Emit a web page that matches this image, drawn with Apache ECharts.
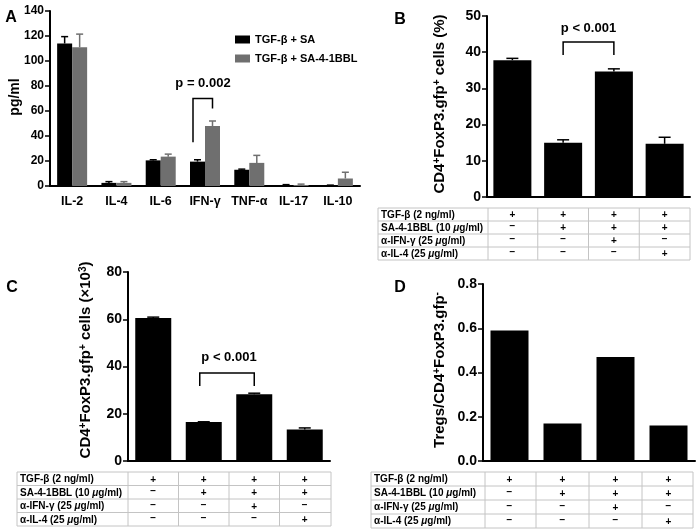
<!DOCTYPE html>
<html><head><meta charset="utf-8">
<script src="https://cdn.jsdelivr.net/npm/echarts@6/dist/echarts.min.js"></script>
<style>html,body{margin:0;padding:0;background:#fff}#c{width:699px;height:532px}</style>
</head><body><div id="c"></div>
<script>
// ---------- data ----------
const cytokines = ['IL-2','IL-4','IL-6','IFN-γ','TNF-α','IL-17','IL-10'];
const seriesNamesA = ['TGF-β + SA','TGF-β + SA-4-1BBL'];
const aSA      = [114, 2.5, 20.5, 19.5, 13, 0.8, 0.5];
const aSAtop   = [119.5, 3.5, 21, 21, 13.5, 1.1, 0.7];
const aBBL     = [111, 2.5, 23.5, 48, 18.5, 0.8, 6];
const aBBLtop  = [121.5, 3.5, 25.5, 52, 24.5, 1.5, 11];
const conditions = ['c1','c2','c3','c4'];
const bVals = [37.8, 15, 34.7, 14.7];
const bTop  = [38.3, 15.8, 35.4, 16.5];
const cVals = [60.5, 16.5, 28.3, 13.3];
const cTop  = [60.9, 16.6, 28.7, 14.0];
const dVals = [0.59, 0.17, 0.47, 0.16];
const tableRows = ['TGF-β (2 ng/ml)', 'SA-4-1BBL (10 {i|μ}g/ml)', 'α-IFN-γ (25 {i|μ}g/ml)', 'α-IL-4 (25 {i|μ}g/ml)'];
const tableSigns = [['+','+','+','+'],['−','+','+','+'],['−','−','+','−'],['−','−','−','+']];
const pTextA = 'p = 0.002';
const pTextBC = 'p < 0.001';

// ---------- style ----------
const FF = "'Liberation Sans', Arial, Helvetica, sans-serif";
const BLACK = '#000';
const GRAY = '#6f6f6f';
const chart = echarts.init(document.getElementById('c'), null, {renderer:'canvas'});

function yAxisCfg(grid, max, interval, size, fmt){
  return {type:'value', gridIndex:grid, min:0, max:max, interval:interval,
    axisLine:{show:true, lineStyle:{color:'#000', width:2}},
    axisTick:{show:true, length:5, lineStyle:{color:'#000', width:1.5}},
    splitLine:{show:false},
    axisLabel:{color:'#000', fontFamily:FF, fontWeight:'bold', fontSize:size, margin:6, formatter:fmt}};
}
function xAxisCfg(grid, data, showLabel){
  return {type:'category', gridIndex:grid, data:data,
    axisLine:{show:true, lineStyle:{color:'#000', width:2}},
    axisTick:{show:false},
    axisLabel:{show:showLabel, interval:0, color:'#000', fontFamily:FF, fontWeight:'bold', fontSize:12.5, margin:9}};
}
function errSeries(name, axis, vals, tops, color, offset, cap){
  return {type:'custom', name:name, xAxisIndex:axis, yAxisIndex:axis, z:3,
    data: vals.map((v,i)=>[i, v, tops[i]]),
    encode:{x:0, y:[1,2]},
    renderItem:function(params, api){
      const c = api.coord([api.value(0), api.value(1)]);
      const t = api.coord([api.value(0), api.value(2)]);
      const x = c[0] + offset;
      return {type:'group', children:[
        {type:'line', shape:{x1:x, y1:c[1], x2:x, y2:t[1]}, style:{stroke:color, lineWidth:1.5}},
        {type:'line', shape:{x1:x-cap/2, y1:t[1], x2:x+cap/2, y2:t[1]}, style:{stroke:color, lineWidth:1.5}}
      ]};
    }};
}

const BW_A = 15;
const option = {
  animation:false,
  backgroundColor:'#fff',
  grid:[
    {left:50, top:11, width:310, height:175},
    {left:487, top:16, width:203, height:181},
    {left:128, top:272, width:202, height:189},
    {left:483, top:284, width:212, height:177}
  ],
  legend:{data:seriesNamesA, orient:'vertical', left:230, top:29, itemWidth:15, itemHeight:8, itemGap:8,
    icon:'rect', textStyle:{fontFamily:FF, fontWeight:'bold', fontSize:11, color:'#000'}},
  xAxis:[xAxisCfg(0, cytokines, true), xAxisCfg(1, conditions, false), xAxisCfg(2, conditions, false), xAxisCfg(3, conditions, false)],
  yAxis:[yAxisCfg(0,140,20,12), yAxisCfg(1,50,10,14), yAxisCfg(2,80,20,14), yAxisCfg(3,0.8,0.2,14, v=>v.toFixed(1))],
  series:[
    {type:'bar', name:seriesNamesA[0], xAxisIndex:0, yAxisIndex:0, data:aSA, barWidth:BW_A, barGap:'0%', itemStyle:{color:BLACK}},
    {type:'bar', name:seriesNamesA[1], xAxisIndex:0, yAxisIndex:0, data:aBBL, barWidth:BW_A, barGap:'0%', itemStyle:{color:GRAY}},
    errSeries('eA1', 0, aSA, aSAtop, BLACK, -BW_A/2, 7),
    errSeries('eA2', 0, aBBL, aBBLtop, GRAY, BW_A/2, 7),
    {type:'bar', name:'B', xAxisIndex:1, yAxisIndex:1, data:bVals, barWidth:38, itemStyle:{color:BLACK}},
    errSeries('eB', 1, bVals, bTop, BLACK, 0, 12),
    {type:'bar', name:'C', xAxisIndex:2, yAxisIndex:2, data:cVals, barWidth:36, itemStyle:{color:BLACK}},
    errSeries('eC', 2, cVals, cTop, BLACK, 0, 12),
    {type:'bar', name:'D', xAxisIndex:3, yAxisIndex:3, data:dVals, barWidth:38, itemStyle:{color:BLACK}}
  ]
};
chart.setOption(option);

// ---------- annotations ----------
function px(axis, x, y){ return chart.convertToPixel({xAxisIndex:axis, yAxisIndex:axis}, [x, y]); }
const g = [];
function text(t, x, y, size, opts){
  g.push({type:'text', x:x, y:y, style:Object.assign({text:t, font:'bold '+size+'px '+FF, fill:'#000', align:'center', verticalAlign:'middle'}, opts||{})});
}
function vtext(t, x, y, size, rich){
  g.push({type:'text', x:x, y:y, rotation:Math.PI/2,
    style:{text:t, font:'bold '+size+'px '+FF, fill:'#000', align:'center', verticalAlign:'middle', rich:rich}});
}
function bracket(axis, xl, xr, yLeftBottom, yTop, yRightBottom, offL, offR){
  const pl = px(axis, xl, yLeftBottom), pt = px(axis, xl, yTop), pr = px(axis, xr, yRightBottom);
  const lx = pl[0] + (offL||0), rx = pr[0] + (offR||0);
  g.push({type:'polyline', shape:{points:[[lx, pl[1]], [lx, pt[1]], [rx, pt[1]], [rx, pr[1]]]},
    style:{stroke:'#000', lineWidth:1.5, fill:null}});
}
// panel letters
text('A', 11, 18, 16); text('B', 400, 20, 16); text('C', 12, 288, 16); text('D', 400, 288, 16);
// axis names
const supRich = (s)=>({sup:{font:'bold '+Math.round(s*0.65)+'px '+FF, verticalAlign:'top', padding:[0,0,6,0]}});
vtext('pg/ml', 15, 97, 14);
vtext('CD4{sup|+}FoxP3.gfp{sup|+} cells (%)', 440, 104, 15, supRich(15));
vtext('CD4{sup|+}FoxP3.gfp{sup|+} cells (×10{sup|3})', 86, 360, 15, supRich(15));
vtext('Tregs/CD4{sup|+}FoxP3.gfp{sup|-}', 440, 370, 15, supRich(15));
// p-values
bracket(0, 3, 3, 35, 70, 62, -12, BW_A/2);
const pa = px(0, 3, 82); text(pTextA, pa[0]-2, pa[1], 13);
bracket(1, 1, 2, 39.2, 42.8, 39.2, 0, 0);
const pb = (function(){const a=px(1,1,46.5), b=px(1,2,46.5); return [(a[0]+b[0])/2, a[1]];})();
text(pTextBC, pb[0], pb[1], 13);
bracket(2, 1, 2, 31.7, 37.2, 31.7, -4, 0);
const pc = (function(){const a=px(2,1,44), b=px(2,2,44); return [(a[0]+b[0])/2, a[1]];})();
text(pTextBC, pc[0], pc[1], 13);

// tables
function table(axis, left, labelEnd, right, top, bottom){
  const centers = conditions.map((c,i)=>px(axis, i, 0)[0]);
  const seps = [labelEnd];
  for (let i=0;i<centers.length-1;i++) seps.push((centers[i]+centers[i+1])/2);
  seps.push(right);
  const rh = (bottom-top)/tableRows.length;
  const line = (x1,y1,x2,y2)=>g.push({type:'line', shape:{x1:x1,y1:y1,x2:x2,y2:y2}, style:{stroke:'#c4c4c4', lineWidth:1}});
  for (let r=0;r<=tableRows.length;r++) line(left, top+r*rh, right, top+r*rh);
  line(left, top, left, bottom);
  seps.forEach(s=>line(s, top, s, bottom));
  tableRows.forEach((lab, r)=>{
    const cy = top + rh*(r+0.5);
    g.push({type:'text', x:left+3, y:cy+0.5, style:{text:lab, font:'bold 10px '+FF, fill:'#000', align:'left', verticalAlign:'middle',
      rich:{i:{font:'italic bold 10px '+FF}}}});
    tableSigns[r].forEach((s, k)=>{
      g.push({type:'text', x:centers[k], y:cy + (s==='+'?1:-1), style:{text:s, font:'bold 10px '+FF, fill:'#000', align:'center', verticalAlign:'middle'}});
    });
  });
}
table(1, 378, 488, 690, 208, 260);
table(2, 17, 128, 331, 472, 526);
table(3, 371, 485, 693, 472, 528);

chart.setOption({graphic:g});
</script>
</body></html>
